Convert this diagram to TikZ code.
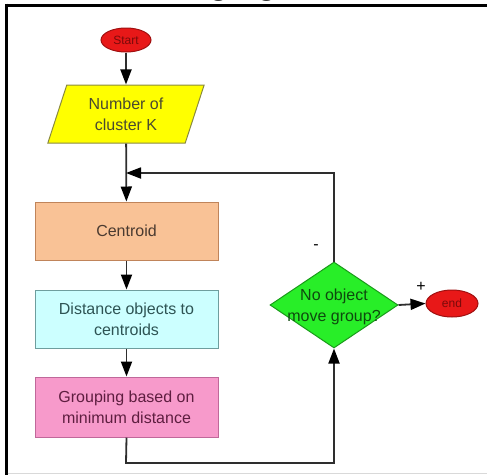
\documentclass[tikz,border=0pt]{standalone}
\usepackage{fontspec}
\setmainfont{Liberation Sans}
\usetikzlibrary{shapes.geometric,arrows.meta}
\definecolor{linegray}{HTML}{2E2E2E}
\definecolor{redfill}{HTML}{E81818}
\definecolor{reddraw}{HTML}{A01010}
\definecolor{redtext}{HTML}{7A0A0A}
\definecolor{yelfill}{HTML}{FFFF00}
\definecolor{yeldraw}{HTML}{8A8A40}
\definecolor{yeltext}{HTML}{4A4A30}
\definecolor{peachfill}{HTML}{F9C296}
\definecolor{peachdraw}{HTML}{C0845A}
\definecolor{peachtext}{HTML}{4A3A30}
\definecolor{cyanfill}{HTML}{CCFFFF}
\definecolor{cyandraw}{HTML}{6E9E9E}
\definecolor{cyantext}{HTML}{2E5454}
\definecolor{pinkfill}{HTML}{F79ACB}
\definecolor{pinkdraw}{HTML}{C0689A}
\definecolor{pinktext}{HTML}{5E1E40}
\definecolor{greenfill}{HTML}{28EE28}
\definecolor{greendraw}{HTML}{1A9A1A}
\definecolor{greentext}{HTML}{0E4A0E}
\tikzset{
  conn/.style={draw=linegray, line width=1.8pt},
  arr/.style={conn, -{Triangle[length=15pt,width=11pt,fill=black,color=black]}},
  body/.style={font=\fontsize{16}{21}\selectfont, align=center},
  stepbox/.style={body, rectangle, minimum width=183pt, minimum height=58pt, line width=1pt, inner sep=0pt},
  term/.style={ellipse, fill=redfill, draw=reddraw, line width=1pt, inner sep=0pt, text=redtext, font=\fontsize{12}{14}\selectfont},
  para/.style={body, trapezium, trapezium left angle=70, trapezium right angle=110, trapezium stretches=true, minimum width=157pt, minimum height=58pt, inner sep=0pt, fill=yelfill, draw=yeldraw, line width=1pt, text=yeltext},
  dec/.style={diamond, minimum width=128pt, minimum height=86pt, inner sep=0pt, fill=greenfill, draw=greendraw, line width=1pt},
  sign/.style={font=\fontsize{16}{16}\selectfont, text=black, inner sep=0pt}
}
\begin{document}
\begin{tikzpicture}[x=1pt,y=-1pt]
\useasboundingbox (0,0) rectangle (487,475);
% frame
\node[font=\bfseries\fontsize{32}{32}\selectfont, anchor=base, inner sep=0pt] (ttl) at (243,-5.5) {ging};
\draw[line width=3pt] (5,5) -- (487,5);
\draw[line width=3pt] (6,3.5) -- (6,475);
\draw[line width=0.6pt, black!15] (7.5,473.5) -- (487,473.5);
% nodes
\node[term, minimum width=50pt, minimum height=24pt] (start) at (126,40) {Start};
\node[para] (num) at (126,114) {Number of\\cluster K};
\coordinate (jn) at (126,173);
\node[stepbox, fill=peachfill, draw=peachdraw, text=peachtext] (cent) at (126.5,231) {Centroid};
\node[stepbox, fill=cyanfill, draw=cyandraw, text=cyantext] (dist) at (126.5,319) {Distance objects to\\centroids};
\node[stepbox, fill=pinkfill, draw=pinkdraw, text=pinktext, minimum height=60pt] (grp) at (126.5,407) {Grouping based on\\minimum distance};
\node[dec] (dia) at (334,305) {};
\node[body, text=greentext, inner sep=0pt] (diat) at (334,307) {No object\\move group?};
\node[term, minimum width=52pt, minimum height=27pt] (end) at (452,303.5) {end};
\coordinate (b1) at (126,463);
\node[sign] (minus) at (316,247) {-};
\node[sign] (plus) at (421,287) {+};
% connectors
\draw[arr] (start) -- (num);
\draw[arr] (num) -- (cent);
\draw[arr] (cent) -- (dist);
\draw[arr] (dist) -- (grp);
\draw[arr] (grp.south) -- (b1) -| (dia.south);
\draw[arr] (dia.north) |- (jn);
\draw[arr] (dia.east) -- (end.west);
\end{tikzpicture}
\end{document}
